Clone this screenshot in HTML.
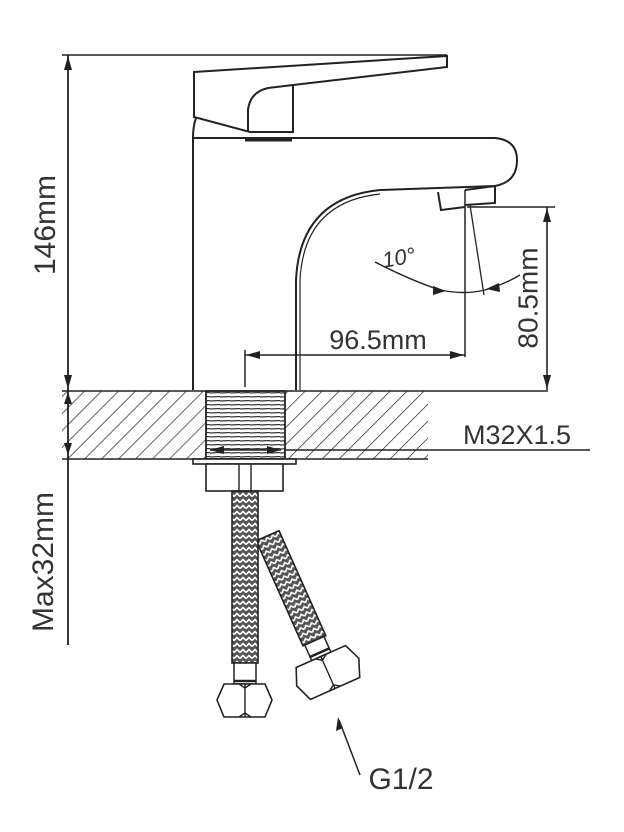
<!DOCTYPE html>
<html><head><meta charset="utf-8"><style>
html,body{margin:0;padding:0;background:#fff}
svg{display:block}
text{font-family:"Liberation Sans","DejaVu Sans",sans-serif;fill:#333}
</style></head><body>
<svg width="624" height="832" viewBox="0 0 624 832" xmlns="http://www.w3.org/2000/svg">
<defs>
<pattern id="hatch" width="12" height="12" patternUnits="userSpaceOnUse" patternTransform="rotate(45)">
<line x1="0" y1="0" x2="0" y2="12" stroke="#222" stroke-width="1.4"/>
</pattern>
<pattern id="braid" width="6" height="6" patternUnits="userSpaceOnUse">
<rect width="6" height="6" fill="#555"/>
<path d="M0 4.5 L3 1.5 L6 4.5" stroke="#fff" stroke-width="1.6" fill="none"/>
</pattern>
<pattern id="thread" width="10" height="4" patternUnits="userSpaceOnUse">
<line x1="0" y1="1" x2="10" y2="0.5" stroke="#333" stroke-width="1.2"/>
</pattern>
</defs>
<g stroke="#222" fill="none" stroke-width="2">
<line x1="62" y1="55" x2="447" y2="55" stroke-width="1.6"/>
<line x1="68" y1="55" x2="68" y2="645" stroke-width="1.8"/>
<path d="M68 56 l-4 14 h8z M68 389 l-4 -14 h8z M68 392 l-4 12 h8z M68 455 l-4 -12 h8z" fill="#222" stroke="none"/>
<path d="M194 72 L447 56 L447 67 L293 85 L293 132 L250 132 L194 117 Z" fill="#fff"/>
<path d="M293 85 L268 88 Q250 92 248 110 L248 132"/>
<path d="M196 118 Q193 126 193 138"/>
<path d="M193 390 L193 138 L495 138 Q517 140 517 160 Q517 182 495 186 L380 190 Q300 198 296 280 L296 390" fill="#fff"/>
<path d="M300 390 L300 280 Q304 202 380 194" stroke-width="1.2"/>
<line x1="245" y1="140" x2="292" y2="140" stroke-width="3"/>
<path d="M438 192 L441 210 L465 207 M465 190 L495 186 L495 203 L465 205"/>
<line x1="465" y1="190" x2="465" y2="357" stroke-width="1.5"/>
<line x1="467" y1="207" x2="555" y2="207" stroke-width="1.5"/>
<line x1="547" y1="207" x2="547" y2="390" stroke-width="1.6"/>
<path d="M547 208 l-4 14 h8z M547 389 l-4 -14 h8z" fill="#222" stroke="none"/>
<line x1="470" y1="205" x2="484" y2="295" stroke-width="1.3"/>
<path d="M375 262 Q410 280 440 290 Q465 295 485 290 Q505 284 520 275" stroke-width="1.4"/>
<path d="M446 291 l-13 -5 l0 9z M486 289 l13 -6 l1 9z" fill="#222" stroke="none"/>
<line x1="245" y1="355" x2="465" y2="355" stroke-width="1.5"/>
<line x1="245" y1="350" x2="245" y2="387" stroke-width="1.5"/>
<path d="M246 355 l14 -4 v8z M464 355 l-14 -4 v8z" fill="#222" stroke="none"/>
<rect x="62" y="391" width="144" height="68" fill="url(#hatch)" stroke="none"/>
<rect x="285" y="391" width="143" height="68" fill="url(#hatch)" stroke="none"/>
<line x1="62" y1="391" x2="548" y2="391" stroke-width="1.6"/>
<line x1="62" y1="459" x2="428" y2="459" stroke-width="1.6"/>
<rect x="206" y="391" width="79" height="68" fill="url(#thread)" stroke-width="1.8"/>
<line x1="285" y1="450" x2="590" y2="450" stroke-width="1.6"/>
<path d="M210 450 l14 -4 v8z M281 450 l-14 -4 v8z" fill="#222" stroke="none"/>
<line x1="210" y1="450" x2="281" y2="450" stroke-width="1.5"/>
<rect x="193" y="459" width="103" height="5" fill="#fff" stroke-width="1.6"/>
<rect x="206" y="464" width="77" height="27" fill="#fff" stroke-width="1.6"/>
<line x1="239" y1="464" x2="239" y2="491" stroke-width="1.4"/>
<line x1="251" y1="464" x2="251" y2="491" stroke-width="1.4"/>
<!-- hose 2 -->
<g transform="translate(258 540) rotate(-24)">
<rect x="-2" y="0" width="25" height="115" fill="url(#braid)" stroke-width="1.6"/>
<rect x="0" y="115" width="21" height="17" fill="#fff" stroke-width="1.5"/>
<line x1="0" y1="128" x2="21" y2="128" stroke-width="2.5"/>
<path d="M-17 132 L37 132 L44 149 L37 167 L-17 167 L-24 149 Z" fill="#fff" stroke-width="1.6"/>
<path d="M10 132 V167 M4 132 L10 136 L16 132 M4 167 L10 163 L16 167" stroke-width="1.4"/>
</g>
<!-- hose 1 -->
<rect x="232" y="491" width="26" height="172" fill="url(#braid)" stroke-width="1.6"/>
<rect x="234" y="663" width="22" height="21" fill="#fff" stroke-width="1.5"/>
<line x1="234" y1="681" x2="256" y2="681" stroke-width="2.5"/>
<path d="M224 684 L265 684 L272 700 L265 717 L224 717 L217 700 Z" fill="#fff" stroke-width="1.6"/>
<path d="M245 684 V717 M239 684 L245 688 L251 684 M239 717 L245 713 L251 717" stroke-width="1.4"/>
<line x1="360" y1="775" x2="339" y2="720" stroke-width="1.5"/>
<path d="M338 717 l-2 14 l7 -3z" fill="#222" stroke="none"/>
</g>
<g>
<text x="47" y="225" font-size="30" text-anchor="middle" transform="rotate(-90 47 225)" dominant-baseline="middle">146mm</text>
<text x="45" y="562" font-size="30" text-anchor="middle" transform="rotate(-90 45 562)" dominant-baseline="middle">Max32mm</text>
<text x="530" y="298" font-size="28" text-anchor="middle" transform="rotate(-90 530 298)" dominant-baseline="middle">80.5mm</text>
<text x="378" y="349" font-size="27" text-anchor="middle">96.5mm</text>
<text x="400" y="265" font-size="22" text-anchor="middle" font-style="italic" transform="rotate(-10 400 265)">10°</text>
<text x="517" y="444" font-size="27" text-anchor="middle">M32X1.5</text>
<text x="401" y="789" font-size="30" text-anchor="middle">G1/2</text>
</g>
</svg>
</body></html>
